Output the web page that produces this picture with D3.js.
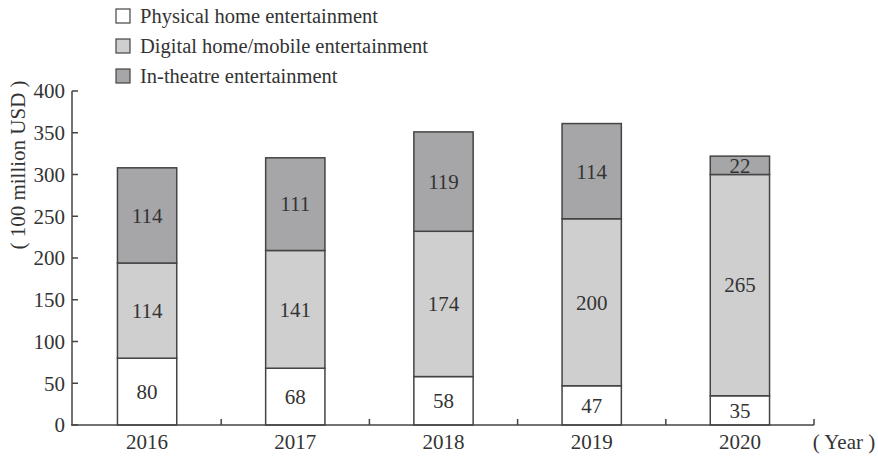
<!DOCTYPE html>
<html>
<head>
<meta charset="utf-8">
<script src="https://cdn.jsdelivr.net/npm/d3@7/dist/d3.min.js"></script>
<style>
  body { margin: 0; background: #fff; }
</style>
</head>
<body>
<svg id="chart" width="878" height="456" font-family="'Liberation Serif', 'Times New Roman', Times, 'DejaVu Serif', serif"></svg>
<script>
const years = ["2016", "2017", "2018", "2019", "2020"];
const physical = [80, 68, 58, 47, 35];
const digital = [114, 141, 174, 200, 265];
const theatre = [114, 111, 119, 114, 22];
const seriesNames = ["Physical home entertainment", "Digital home/mobile entertainment", "In-theatre entertainment"];
const seriesColors = ["#ffffff", "#cfcfcf", "#a6a6a9"];
const yTicks = [0, 50, 100, 150, 200, 250, 300, 350, 400];

const svg = d3.select("#chart");
const stroke = "#444";
const textColor = "#333";

const x = d3.scaleBand().domain(years).range([73, 814]).paddingInner(0.6).paddingOuter(0.3);
const y = d3.scaleLinear().domain([0, 400]).range([425, 91]);

const rows = years.map((yr, i) => ({ year: yr, physical: physical[i], digital: digital[i], theatre: theatre[i] }));
const keys = ["physical", "digital", "theatre"];
const stack = d3.stack().keys(keys)(rows);

// bars
stack.forEach((layer, li) => {
  const g = svg.append("g");
  g.selectAll("rect").data(layer).join("rect")
    .attr("x", d => x(d.data.year))
    .attr("width", x.bandwidth())
    .attr("y", d => y(d[1]))
    .attr("height", d => y(d[0]) - y(d[1]))
    .attr("fill", seriesColors[li])
    .attr("stroke", stroke)
    .attr("stroke-width", 1.5);
  g.selectAll("text").data(layer).join("text")
    .attr("x", d => x(d.data.year) + x.bandwidth() / 2)
    .attr("y", d => (y(d[0]) + y(d[1])) / 2)
    .attr("dy", "0.35em")
    .attr("text-anchor", "middle")
    .attr("font-size", 21)
    .attr("fill", textColor)
    .text(d => d[1] - d[0]);
});

// y axis
const yAxis = svg.append("g").attr("transform", "translate(72,0)");
yAxis.append("line").attr("x1", 0).attr("x2", 0).attr("y1", y(0)).attr("y2", y(400))
  .attr("stroke", stroke).attr("stroke-width", 1.5);
yAxis.selectAll("line.tick").data(yTicks).join("line").attr("class", "tick")
  .attr("x1", 0).attr("x2", 6).attr("y1", d => y(d)).attr("y2", d => y(d))
  .attr("stroke", stroke).attr("stroke-width", 1.5);
yAxis.selectAll("text").data(yTicks).join("text")
  .attr("x", -7).attr("y", d => y(d)).attr("dy", "0.35em")
  .attr("text-anchor", "end").attr("font-size", 21).attr("fill", textColor)
  .text(d => d);

// x axis
const xAxis = svg.append("g");
const xEnd = x.range()[1];
xAxis.append("line").attr("x1", 71).attr("x2", xEnd).attr("y1", y(0)).attr("y2", y(0))
  .attr("stroke", stroke).attr("stroke-width", 1.5);
const boundaries = years.map(yr => x(yr) - x.step() * x.paddingInner() / 2 + x.step());
xAxis.selectAll("line.tick").data(boundaries).join("line").attr("class", "tick")
  .attr("x1", d => d).attr("x2", d => d).attr("y1", y(0)).attr("y2", y(0) - 6)
  .attr("stroke", stroke).attr("stroke-width", 1.5);
xAxis.selectAll("text").data(years).join("text")
  .attr("x", d => x(d) + x.bandwidth() / 2).attr("y", 449)
  .attr("text-anchor", "middle").attr("font-size", 21).attr("fill", textColor)
  .text(d => d);
svg.append("text").attr("x", 844).attr("y", 449).attr("text-anchor", "middle")
  .attr("font-size", 21).attr("fill", textColor).text("( Year )");

// y title
svg.append("text")
  .attr("transform", "translate(18,165) rotate(-90)")
  .attr("text-anchor", "middle").attr("dy", "0.35em")
  .attr("font-size", 21).attr("fill", textColor)
  .text("( 100 million USD )");

// legend
const legend = svg.append("g");
seriesNames.forEach((name, i) => {
  const ly = 16 + i * 30;
  legend.append("rect").attr("x", 116).attr("y", ly - 7).attr("width", 14).attr("height", 14)
    .attr("fill", seriesColors[i]).attr("stroke", stroke).attr("stroke-width", 1.2);
  legend.append("text").attr("x", 140).attr("y", ly).attr("dy", "0.35em")
    .attr("font-size", 20.5).attr("fill", textColor).text(name);
});
</script>
</body>
</html>
